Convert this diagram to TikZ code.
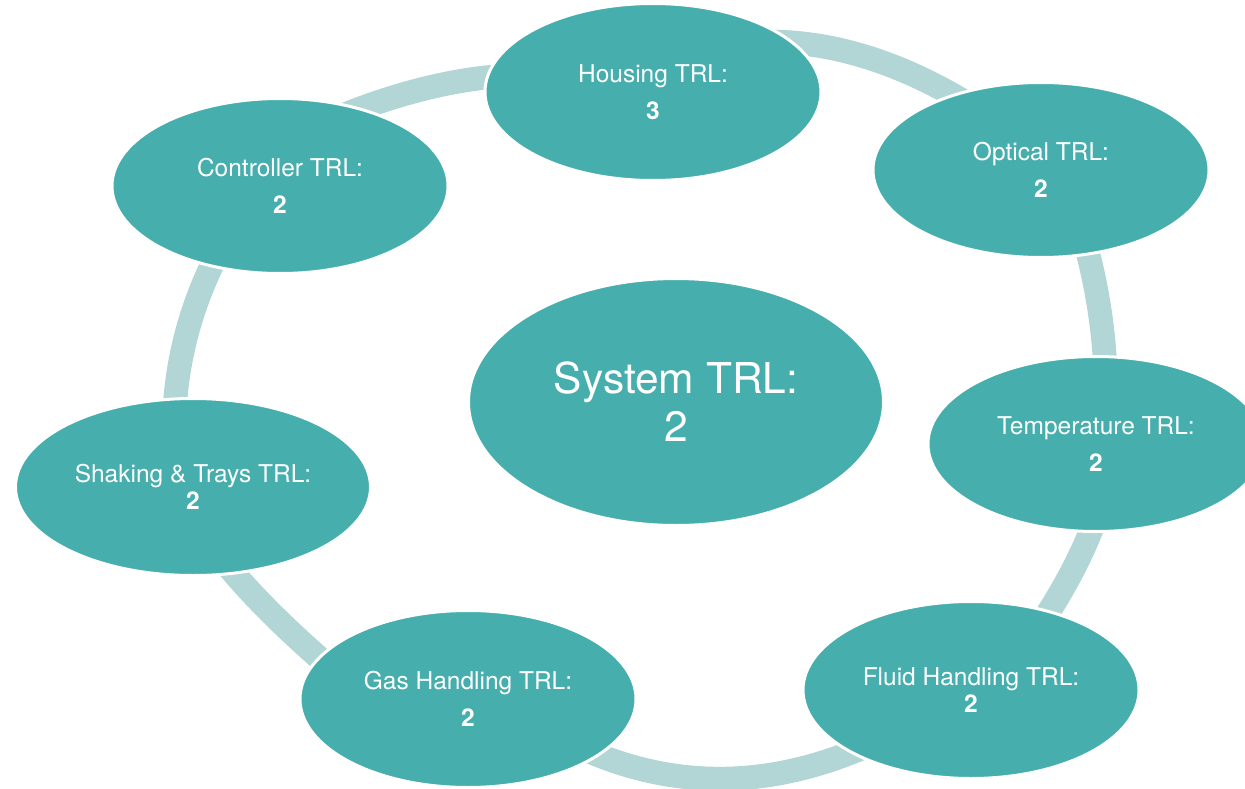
\documentclass[tikz,border=0pt]{standalone}
\usepackage{fontspec}
\setmainfont{TeX Gyre Heros}
\usepackage{tikz}
\usetikzlibrary{shapes.geometric,backgrounds}
\definecolor{trlteal}{RGB}{70,174,173}
\definecolor{trlring}{RGB}{177,214,213}
\tikzset{
  unit/.style={ellipse, fill=trlteal, draw=white, line width=3pt, text=white, align=center,
    inner sep=0pt, minimum width=336pt, minimum height=177pt, font=\fontsize{24.5}{27}\selectfont},
  link/.style={draw=trlring, line width=24pt, line join=round}
}
\begin{document}
\begin{tikzpicture}[x=1pt,y=-1pt]
    \useasboundingbox (0,0) rectangle (1245,789);
    \node[unit] (housing) at (653,92) {Housing TRL:\\[10pt]\textbf{3}};
    \node[unit, minimum height=175pt] (optical) at (1041,170) {Optical TRL:\\[10pt]\textbf{2}};
    \node[unit, minimum height=175pt] (temperature) at (1096,444) {Temperature TRL:\\[10pt]\textbf{2}};
    \node[unit] (fluid) at (971,690) {Fluid Handling TRL:\\\textbf{2}};
    \node[unit] (gas) at (468,699) {Gas Handling TRL:\\[10pt]\textbf{2}};
    \node[unit, minimum width=355pt] (shaking) at (193,487) {Shaking \& Trays TRL:\\\textbf{2}};
    \node[unit, minimum height=175pt] (controller) at (280,186) {Controller TRL:\\[10pt]\textbf{2}};
    \node[unit, minimum width=415pt, minimum height=247pt, font=\fontsize{42.5}{48}\selectfont] (system) at (676,402) {System TRL:\\2};
    \begin{pgfonlayer}{background}
    \draw[link] (controller.center) -- (320,125) .. controls (390.7,93.7) and (457.3,77) .. (520,75) -- (housing.center);
    \draw[link] (housing.center) -- (752,42) .. controls (829.3,38) and (908.7,63.3) .. (990,118) -- (optical.center);
    \draw[link] (optical.center) -- (1080,225) .. controls (1096.7,279) and (1105.3,334) .. (1106,390) -- (temperature.center);
    \draw[link] (temperature.center) -- (1100,505) .. controls (1087.3,546.3) and (1064,591.3) .. (1030,640) -- (fluid.center);
    \draw[link] (fluid.center) -- (880,740) .. controls (774.7,790) and (673,791.7) .. (575,745) -- (gas.center);
    \draw[link] (gas.center) -- (345,680) .. controls (288.3,632.7) and (245,589.3) .. (215,550) -- (shaking.center);
    \draw[link] (shaking.center) -- (174,425) .. controls (175.3,359.7) and (192.3,298) .. (225,240) -- (controller.center);
    \end{pgfonlayer}
\end{tikzpicture}
\end{document}
